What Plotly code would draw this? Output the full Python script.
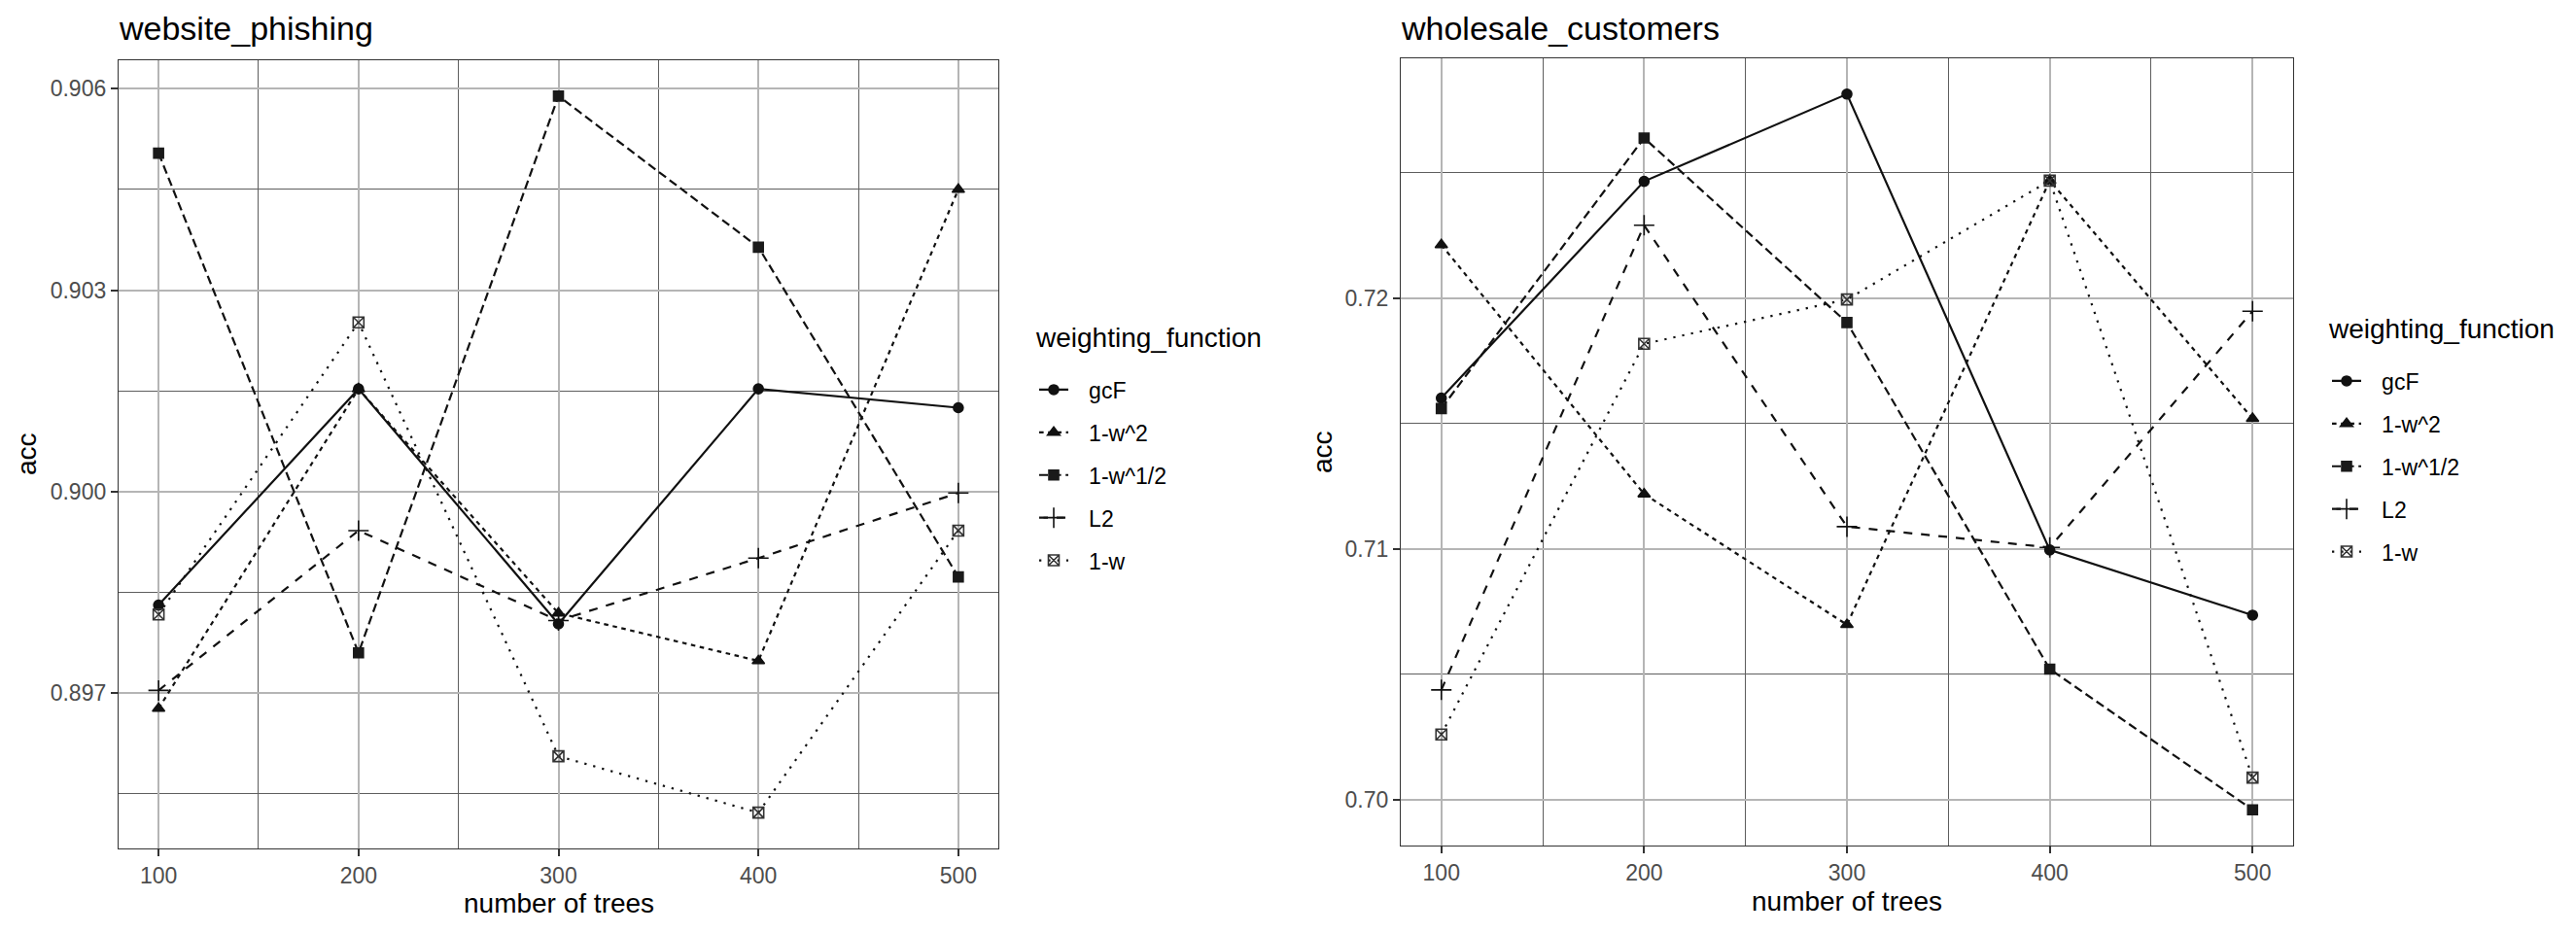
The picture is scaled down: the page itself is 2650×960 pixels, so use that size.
import plotly.graph_objects as go

trees = [100, 200, 300, 400, 500]
functions = ["gcF", "1-w^2", "1-w^1/2", "L2", "1-w"]

# website_phishing accuracies
wp_gcF = [0.89831, 0.90153, 0.89803, 0.90153, 0.90125]
wp_w2 = [0.89677, 0.90153, 0.89819, 0.89748, 0.90450]
wp_w12 = [0.90504, 0.89760, 0.90589, 0.90364, 0.89873]
wp_L2 = [0.89704, 0.89942, 0.89808, 0.89901, 0.89998]
wp_w = [0.89817, 0.90252, 0.89606, 0.89522, 0.89942]

# wholesale_customers accuracies
wc_gcF = [0.71602, 0.72466, 0.72814, 0.70996, 0.70736]
wc_w2 = [0.72213, 0.71219, 0.70698, 0.72469, 0.71520]
wc_w12 = [0.71560, 0.72639, 0.71903, 0.70521, 0.69960]
wc_L2 = [0.70438, 0.72291, 0.71089, 0.71006, 0.71948]
wc_w = [0.70260, 0.71818, 0.71995, 0.72469, 0.70088]

wp_ticks = [0.897, 0.900, 0.903, 0.906]
wp_minor = [0.8955, 0.8985, 0.9015, 0.9045]
wc_ticks = [0.70, 0.71, 0.72]
wc_minor = [0.705, 0.715, 0.725]
x_minor = [150, 250, 350, 450]

W, H = 2650, 960
FONT = "Liberation Sans, Arial, sans-serif"

dashes = ["solid", "4.6px,4.6px", "9px,4.6px", "9px,9px", "2.3px,7px"]
symbols = ["circle", "triangle-up", "square", "cross-thin-open", "square-x-open"]
sizes = [10, 11, 10, 15, 11]
mcolors = ["#111111", "#111111", "#1a1a1a", "#111111", "#333333"]
LABEL_PAD = "\u2002\u2009"  # visual gap between legend key and label

fig = go.Figure()

panels = [
    ([wp_gcF, wp_w2, wp_w12, wp_L2, wp_w], "x", "y", "legend"),
    ([wc_gcF, wc_w2, wc_w12, wc_L2, wc_w], "x2", "y2", "legend2"),
]
for series, xa, ya, lg in panels:
    for i, name in enumerate(functions):
        fig.add_trace(go.Scatter(
            x=trees, y=series[i], name=LABEL_PAD + name, mode="lines+markers",
            xaxis=xa, yaxis=ya, legend=lg, legendgroup=lg + name,
            line=dict(color="#111111", width=2.2, dash=dashes[i]),
            marker=dict(symbol=symbols[i], size=sizes[i], color=mcolors[i],
                        line=dict(color=mcolors[i], width=1.6)),
        ))


def yrange(*arrs):
    vals = [v for a in arrs for v in a]
    lo, hi = min(vals), max(vals)
    pad = (hi - lo) * 0.05
    return [lo - pad, hi + pad]


xr = [min(trees) - 0.05 * (max(trees) - min(trees)), max(trees) + 0.05 * (max(trees) - min(trees))]

TICKFONT = dict(family=FONT, size=23, color="#4d4d4d")
common_x = dict(
    range=xr, tickvals=trees, ticktext=[str(t) for t in trees],
    showgrid=True, gridcolor="#b5b5b5", gridwidth=2,
    minor=dict(tickvals=x_minor, showgrid=True, gridcolor="#5e5e5e", gridwidth=1),
    showline=True, mirror=True, linecolor="#333333", linewidth=1.3,
    ticks="outside", ticklen=7, tickwidth=2, tickcolor="#333333",
    tickfont=TICKFONT, zeroline=False,
)
common_y = dict(
    showgrid=True, gridcolor="#b5b5b5", gridwidth=2,
    showline=True, mirror=True, linecolor="#333333", linewidth=1.3,
    ticks="outside", ticklen=7, tickwidth=2, tickcolor="#333333",
    tickfont=TICKFONT, zeroline=False,
)

legend_common = dict(
    xanchor="left", yanchor="middle",
    font=dict(family=FONT, size=23, color="black"),
    traceorder="grouped", tracegroupgap=11, bgcolor="rgba(0,0,0,0)",
)

fig.update_layout(
    width=W, height=H, margin=dict(l=0, r=0, t=0, b=0),
    paper_bgcolor="white", plot_bgcolor="white",
    font=dict(family=FONT, color="black"),
    xaxis=dict(domain=[122 / W, 1027 / W], anchor="y", **common_x),
    yaxis=dict(domain=[1 - 873 / H, 1 - 62 / H], anchor="x",
               range=yrange(wp_gcF, wp_w2, wp_w12, wp_L2, wp_w),
               tickvals=wp_ticks, ticktext=[f"{v:.3f}" for v in wp_ticks],
               minor=dict(tickvals=wp_minor, showgrid=True, gridcolor="#5e5e5e", gridwidth=1),
               **common_y),
    xaxis2=dict(domain=[1441 / W, 2359 / W], anchor="y2", **common_x),
    yaxis2=dict(domain=[1 - 870 / H, 1 - 60 / H], anchor="x2",
                range=yrange(wc_gcF, wc_w2, wc_w12, wc_L2, wc_w),
                tickvals=wc_ticks, ticktext=[f"{v:.2f}" for v in wc_ticks],
                minor=dict(tickvals=wc_minor, showgrid=True, gridcolor="#5e5e5e", gridwidth=1),
                **common_y),
    legend=dict(x=1064 / W, y=1 - 489 / H, **legend_common),
    legend2=dict(x=2394 / W, y=1 - 480 / H, **legend_common),
)

annots = [
    dict(text="website_phishing", x=120 / W, y=1 - 29 / H, xanchor="left", yanchor="middle", font=dict(size=34)),
    dict(text="wholesale_customers", x=1439 / W, y=1 - 29 / H, xanchor="left", yanchor="middle", font=dict(size=34)),
    dict(text="number of trees", x=(122 + 1027) / 2 / W, y=1 - 929 / H, xanchor="center", yanchor="middle", font=dict(size=28)),
    dict(text="number of trees", x=(1441 + 2359) / 2 / W, y=1 - 927 / H, xanchor="center", yanchor="middle", font=dict(size=28)),
    dict(text="acc", x=27 / W, y=1 - 467 / H, xanchor="center", yanchor="middle", textangle=-90, font=dict(size=28)),
    dict(text="acc", x=1360 / W, y=1 - 465 / H, xanchor="center", yanchor="middle", textangle=-90, font=dict(size=28)),
    dict(text="weighting_function", x=1063 / W, y=1 - 347 / H, xanchor="left", yanchor="middle", font=dict(size=28)),
    dict(text="weighting_function", x=2393 / W, y=1 - 338 / H, xanchor="left", yanchor="middle", font=dict(size=28)),
]
for a in annots:
    a.update(xref="paper", yref="paper", showarrow=False)
    a["font"] = dict(family=FONT, color="black", **a["font"])
fig.update_layout(annotations=annots)

fig.write_html("out.html")
